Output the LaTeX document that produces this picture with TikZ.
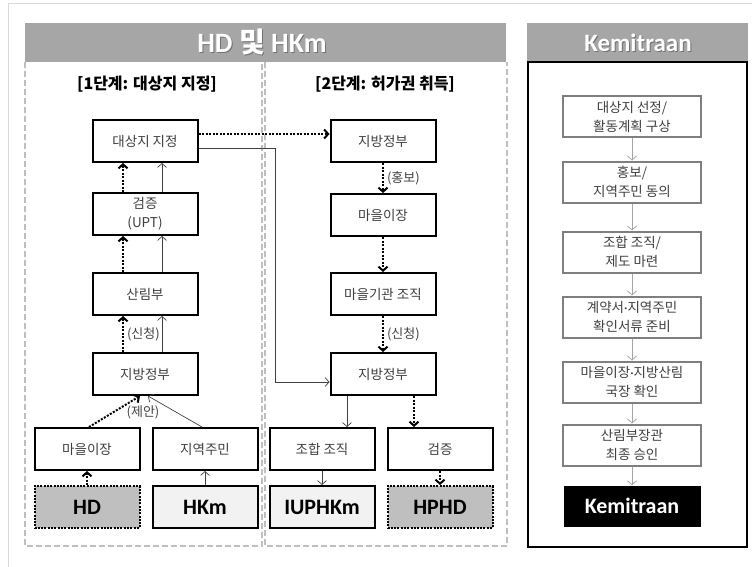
\documentclass[tikz,border=0pt]{standalone}
\usepackage{fontspec}
\setmainfont{Noto Sans CJK KR}
\newfontfamily\calibri{Carlito}
\usetikzlibrary{arrows.meta,positioning}
\definecolor{txt}{HTML}{404040}
\definecolor{bar}{HTML}{A6A6A6}
\definecolor{frame}{HTML}{D9D9D9}
\definecolor{dashgray}{HTML}{BFBFBF}
\definecolor{darkfill}{HTML}{BFBFBF}
\definecolor{lightfill}{HTML}{F2F2F2}
\definecolor{stepgray}{HTML}{7F7F7F}
\definecolor{arrgray}{HTML}{A6A6A6}
\newcommand{\mdot}{{\calibri\textperiodcentered}}
\tikzstyle{box}=[draw,line width=2pt,minimum width=105pt,minimum height=42pt,inner sep=0pt,fill=white,text=txt,align=center,font=\fontsize{13.5}{19}\selectfont]
\tikzstyle{grp}=[box,text=black,font=\calibri\bfseries\fontsize{22}{24}\selectfont]
\tikzstyle{dotbox}=[dash pattern=on 2pt off 1.3pt]
\tikzstyle{stepbox}=[draw=stepgray,line width=2pt,minimum width=138pt,minimum height=41pt,inner sep=0pt,fill=white,text=txt,align=center,font=\fontsize{13.5}{19}\selectfont]
\tikzstyle{kem}=[fill=black,minimum width=137pt,minimum height=41pt,inner sep=0pt,text=white,font=\calibri\bfseries\fontsize{22}{24}\selectfont]
\tikzstyle{head}=[text=white,font=\bfseries\fontsize{28}{30}\selectfont]
\tikzstyle{title}=[font=\bfseries\fontsize{16}{18}\selectfont]
\tikzstyle{lbl}=[text=txt,inner sep=1pt,font=\fontsize{13}{15}\selectfont]
\tikzstyle{panel}=[draw=dashgray,line width=1.5pt,dash pattern=on 6pt off 3pt]
\tikzstyle{n}=[->,line width=2pt,dash pattern=on 2pt off 1.5pt]
\tikzstyle{p}=[->,line width=0.7pt,draw=txt]
\tikzstyle{g}=[->,line width=0.8pt,draw=arrgray]
\begin{document}
\begin{tikzpicture}[x=1pt,y=-1pt,>={Straight Barb[length=4pt,width=9pt]}]
\useasboundingbox (0,0) rectangle (752,567);
\draw[frame,line width=1pt] (8,567) -- (8,4) -- (752,4);
% header bars
\fill[bar] (25,23) rectangle (506,62);
\fill[bar] (527,23) rectangle (748,62);
\node[head,text=black!55] (hdsh) at (263,43.5) {{\calibri HD} 및 {\calibri HKm}};
\node[head] (hdt) at (262,42.5) {{\calibri HD} 및 {\calibri HKm}};
\node[head,text=black!55,font=\calibri\bfseries\fontsize{25}{27}\selectfont] (kemsh) at (639,43.5) {Kemitraan};
\node[head,font=\calibri\bfseries\fontsize{25}{27}\selectfont] (kemt) at (638,42.5) {Kemitraan};
% panels
\draw[panel] (25,62) -- (25,546) -- (262,546) -- (262,62);
\draw[panel] (265,62) -- (265,546) -- (507,546) -- (507,62);
\draw[line width=2pt] (528,62) rectangle (747,547);
\node[title] (t1) at (147,84) {[1단계: 대상지 지정]};
\node[title] (t2) at (385,84) {[2단계: 허가권 취득]};
% stage 1
\node[box] (sel) at (145,141) {대상지 지정};
\node[box] (upt) at (145,214) {검증\\(UPT)};
\node[box] (forest) at (145,294) {산림부};
\node[box] (lg1) at (145,374) {지방정부};
\node[box] (vh1) at (87,449) {마을이장};
\node[box] (res) at (205,449) {지역주민};
\node[grp,dotbox,fill=darkfill] (hd) at (87,507) {HD};
\node[grp,fill=lightfill] (hkm) at (205,507) {HKm};
% stage 2
\node[box] (lg2) at (383,141) {지방정부};
\node[box] (vh2) at (383,215) {마을이장};
\node[box] (inst) at (383,294) {마을기관 조직};
\node[box] (lg3) at (383,374) {지방정부};
\node[box] (coop) at (322,449) {조합 조직};
\node[box] (chk) at (440,449) {검증};
\node[grp,fill=lightfill] (iup) at (322,507) {IUPHKm};
\node[grp,dotbox,fill=darkfill] (hphd) at (440,507) {HPHD};
% kemitraan steps
\node[stepbox] (s1) at (632,117) {대상지 선정/\\활동계획 구상};
\node[stepbox] (s2) at (632,182) {홍보/\\지역주민 동의};
\node[stepbox] (s3) at (632,252) {조합 조직/\\제도 마련};
\node[stepbox] (s4) at (632,317) {계약서\mdot 지역주민\\확인서류 준비};
\node[stepbox] (s5) at (632,382) {마을이장\mdot 지방산림\\국장 확인};
\node[stepbox] (s6) at (632,445) {산림부장관\\최종 승인};
\node[kem] (kem) at (632,506) {Kemitraan};
% arrows stage 1
\draw[n] ([xshift=-22pt]upt.north) -- ([xshift=-22pt]sel.south);
\draw[p] ([xshift=17pt]upt.north) -- ([xshift=17pt]sel.south);
\draw[n] ([xshift=-22pt]forest.north) -- ([xshift=-22pt]upt.south);
\draw[p] ([xshift=17pt]forest.north) -- ([xshift=17pt]upt.south);
\draw[n] ([xshift=-22pt]lg1.north) -- ([xshift=-22pt]forest.south) node[lbl,midway,right,xshift=2pt] {(신청)};
\draw[p] ([xshift=17pt]lg1.north) -- ([xshift=17pt]forest.south);
\draw[n] ([xshift=2pt]vh1.north) -- ([xshift=-5pt]lg1.south) node[lbl,pos=1,anchor=north,xshift=3pt,yshift=-8pt] {(제안)};
\draw[p] ([xshift=-3pt]res.north) -- ([xshift=3pt]lg1.south);
\draw[n] (hd) -- (vh1);
\draw[p] (hkm) -- (res);
% from stage 1 to stage 2
\draw[n] ([yshift=7pt]sel.east) -- ([yshift=7pt]lg2.west);
\draw[p] ([yshift=-7pt]sel.east) -| ([xshift=-54pt,yshift=-8pt]lg3.west) -- ([yshift=-8pt]lg3.west);
% arrows stage 2
\draw[n] (lg2) -- (vh2) node[lbl,midway,right,xshift=2pt] {(홍보)};
\draw[n] (vh2) -- (inst);
\draw[n] (inst) -- (lg3) node[lbl,midway,right,xshift=2pt] {(신청)};
\draw[p] ([xshift=-36pt]lg3.south) -- ([xshift=25pt]coop.north);
\draw[n] ([xshift=31pt]lg3.south) -- ([xshift=-26pt]chk.north);
\draw[p] (coop) -- (iup);
\draw[n] (chk) -- (hphd);
% arrows kemitraan
\draw[g] (s1) -- (s2);
\draw[g] (s2) -- (s3);
\draw[g] (s3) -- (s4);
\draw[g] (s4) -- (s5);
\draw[g] (s5) -- (s6);
\draw[g] (s6) -- (kem);
\end{tikzpicture}
\end{document}
